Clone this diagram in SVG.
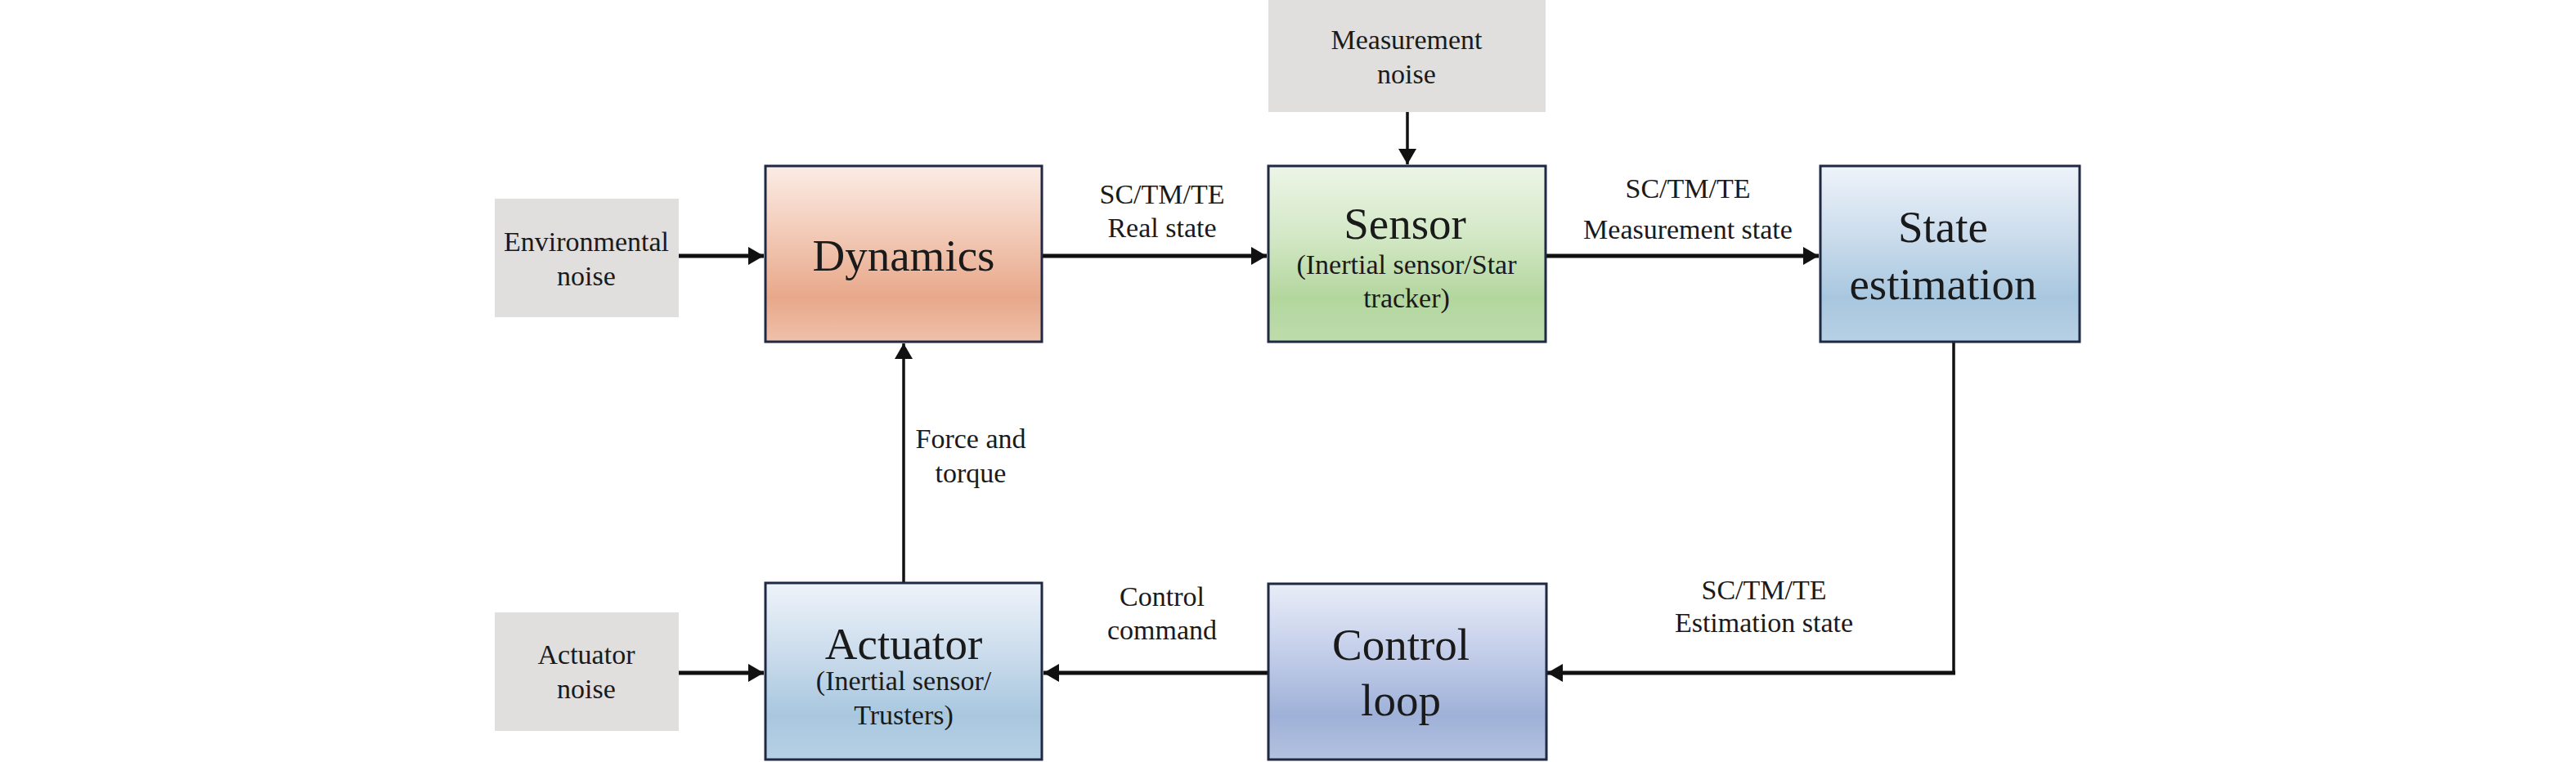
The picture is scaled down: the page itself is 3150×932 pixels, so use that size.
<svg xmlns="http://www.w3.org/2000/svg" width="3150" height="932" viewBox="0 0 3150 932" font-family="Liberation Serif, Times New Roman, serif">
<style>
  .t { fill: #1a1a1a; text-anchor: middle; }
  .sm { font-size: 34px; }
  .big { font-size: 55px; }
  .noise { fill: #e0dfde; }
  .box { stroke: #1f2944; stroke-width: 3; }
  .conn { fill: none; stroke: #111; stroke-linejoin: miter; }
  .h { stroke-width: 5; }
  .v { stroke-width: 3.5; }
</style>
<defs>
  <linearGradient id="gDyn" x1="0" y1="0" x2="0" y2="1">
    <stop offset="0" stop-color="#fbece6"/>
    <stop offset="0.35" stop-color="#f3cdbb"/>
    <stop offset="0.75" stop-color="#e8a88a"/>
    <stop offset="1" stop-color="#efc1aa"/>
  </linearGradient>
  <linearGradient id="gSen" x1="0" y1="0" x2="0" y2="1">
    <stop offset="0" stop-color="#edf5e7"/>
    <stop offset="0.4" stop-color="#d3e8c6"/>
    <stop offset="0.75" stop-color="#b3d69e"/>
    <stop offset="1" stop-color="#bddcab"/>
  </linearGradient>
  <linearGradient id="gBlue" x1="0" y1="0" x2="0" y2="1">
    <stop offset="0" stop-color="#eef3fa"/>
    <stop offset="0.4" stop-color="#cbdcec"/>
    <stop offset="0.75" stop-color="#a8c7df"/>
    <stop offset="1" stop-color="#b7d0e5"/>
  </linearGradient>
  <linearGradient id="gCtl" x1="0" y1="0" x2="0" y2="1">
    <stop offset="0" stop-color="#e9edf8"/>
    <stop offset="0.4" stop-color="#c2cde9"/>
    <stop offset="0.75" stop-color="#9fb1d8"/>
    <stop offset="1" stop-color="#b3c2e0"/>
  </linearGradient>
  <marker id="arr" markerUnits="userSpaceOnUse" markerWidth="20" markerHeight="24" refX="19" refY="12" orient="auto">
    <path d="M0,1 L19,12 L0,23 z" fill="#111"/>
  </marker>
</defs>

<g id="connectors">
  <path class="conn h" d="M830,313 H934" marker-end="url(#arr)"/>
  <path class="conn h" d="M1275,313 H1549" marker-end="url(#arr)"/>
  <path class="conn v" d="M1721,137 V201" marker-end="url(#arr)"/>
  <path class="conn h" d="M1891,313 H2224" marker-end="url(#arr)"/>
  <path class="conn v" d="M2389,419 V823"/>
  <path class="conn h" d="M2391,823 H1892" marker-end="url(#arr)"/>
  <path class="conn h" d="M1550,823 H1276" marker-end="url(#arr)"/>
  <path class="conn h" d="M830,823 H934" marker-end="url(#arr)"/>
  <path class="conn v" d="M1105,712 V420" marker-end="url(#arr)"/>
  <text class="t sm" x="1421" y="249">SC/TM/TE</text>
  <text class="t sm" x="1421" y="290">Real state</text>
  <text class="t sm" x="2064" y="242">SC/TM/TE</text>
  <text class="t sm" x="2064" y="292">Measurement state</text>
  <text class="t sm" x="1187" y="548">Force and</text>
  <text class="t sm" x="1187" y="590">torque</text>
  <text class="t sm" x="1421" y="741">Control</text>
  <text class="t sm" x="1421" y="782">command</text>
  <text class="t sm" x="2157" y="733">SC/TM/TE</text>
  <text class="t sm" x="2157" y="773">Estimation state</text>
</g>

<g id="env-noise">
  <rect class="noise" x="605" y="243" width="225" height="145"/>
  <text class="t sm" x="717" y="307">Environmental</text>
  <text class="t sm" x="717" y="349">noise</text>
</g>
<g id="dynamics">
  <rect class="box" x="936" y="203" width="338" height="215" fill="url(#gDyn)"/>
  <text class="t big" x="1105" y="331">Dynamics</text>
</g>
<g id="measurement-noise">
  <rect class="noise" x="1551" y="0" width="339" height="137"/>
  <text class="t sm" x="1720" y="60">Measurement</text>
  <text class="t sm" x="1720" y="102">noise</text>
</g>
<g id="sensor">
  <rect class="box" x="1551" y="203" width="339" height="215" fill="url(#gSen)"/>
  <text class="t big" x="1718" y="292">Sensor</text>
  <text class="t sm" x="1720" y="335">(Inertial sensor/Star</text>
  <text class="t sm" x="1720" y="376">tracker)</text>
</g>
<g id="state-estimation">
  <rect class="box" x="2226" y="203" width="317" height="215" fill="url(#gBlue)"/>
  <text class="t big" x="2376" y="296">State</text>
  <text class="t big" x="2376" y="366">estimation</text>
</g>
<g id="actuator-noise">
  <rect class="noise" x="605" y="749" width="225" height="145"/>
  <text class="t sm" x="717" y="812">Actuator</text>
  <text class="t sm" x="717" y="854">noise</text>
</g>
<g id="actuator">
  <rect class="box" x="936" y="713" width="338" height="216" fill="url(#gBlue)"/>
  <text class="t big" x="1105" y="806">Actuator</text>
  <text class="t sm" x="1105" y="844">(Inertial sensor/</text>
  <text class="t sm" x="1105" y="886">Trusters)</text>
</g>
<g id="control-loop">
  <rect class="box" x="1551" y="714" width="340" height="215" fill="url(#gCtl)"/>
  <text class="t big" x="1713" y="807">Control</text>
  <text class="t big" x="1713" y="875">loop</text>
</g>
</svg>
